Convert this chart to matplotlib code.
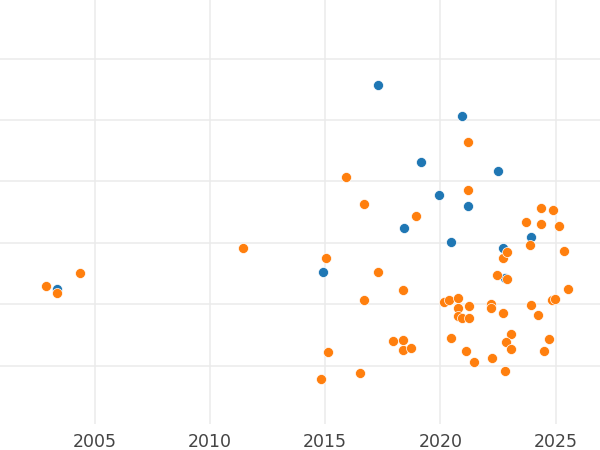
import numpy as np
import matplotlib.pyplot as plt

# blue series (year, value)
blue_year = [2017.29, 2020.93, 2019.16, 2022.50, 2019.94, 2021.20, 2018.42,
             2023.93, 2020.46, 2022.71, 2014.90, 2022.80, 2003.36]
blue_val = [4.57, 4.07, 3.32, 3.17, 2.78, 2.60, 2.24,
            2.10, 2.01, 1.92, 1.53, 1.43, 1.25]

# orange series (year, value)
orange_year = [2002.89, 2003.36, 2004.36, 2011.43, 2021.20, 2015.90, 2021.20,
               2016.68, 2018.94, 2024.36, 2024.88, 2023.71, 2024.36, 2025.14,
               2023.88, 2025.36, 2015.03, 2022.71, 2022.89, 2017.29, 2022.45,
               2022.89, 2018.38, 2016.68, 2025.53, 2024.84, 2024.97, 2020.15,
               2020.37, 2020.76, 2021.24, 2020.76, 2020.76, 2020.93, 2021.24,
               2022.19, 2022.19, 2022.71, 2023.93, 2024.23, 2023.06, 2020.46,
               2024.71, 2022.84, 2017.94, 2018.38, 2018.38, 2018.72, 2015.12,
               2021.11, 2023.06, 2024.49, 2021.46, 2022.24, 2022.80, 2016.51,
               2014.82]
orange_val = [1.30, 1.18, 1.51, 1.92, 3.64, 3.07, 2.86,
              2.63, 2.44, 2.57, 2.54, 2.34, 2.31, 2.28,
              1.97, 1.87, 1.75, 1.75, 1.85, 1.53, 1.48,
              1.41, 1.23, 1.07, 1.25, 1.07, 1.09, 1.04,
              1.07, 1.10, 0.97, 0.94, 0.81, 0.78, 0.78,
              1.00, 0.94, 0.86, 0.99, 0.83, 0.52, 0.45,
              0.43, 0.39, 0.40, 0.42, 0.26, 0.29, 0.22,
              0.24, 0.27, 0.24, 0.06, 0.13, -0.09, -0.12,
              -0.22]

x_ticks = [2005, 2010, 2015, 2020, 2025]

fig = plt.figure(figsize=(6, 4.5), dpi=100)
ax = fig.add_axes([0, 1 - 424 / 450, 1, 424 / 450])

ax.scatter(blue_year, blue_val, s=52, color='#1f77b4', edgecolor='white',
           linewidth=0.5, zorder=3)
ax.scatter(orange_year, orange_val, s=52, color='#ff7f0e', edgecolor='white',
           linewidth=0.5, zorder=4)

ax.set_xlim(2000.89, 2026.92)
ax.set_ylim(-0.95, 5.956)
ax.set_xticks(x_ticks)
ax.set_yticks(np.arange(0, 6))
ax.set_yticklabels([])
ax.grid(True, color='#ebebeb', linewidth=1.1, zorder=0)
ax.set_axisbelow(True)
for s in ax.spines.values():
    s.set_visible(False)
ax.tick_params(axis='both', length=0)
ax.tick_params(axis='x', labelsize=12.5, labelcolor='#444444', pad=6.5)

fig.savefig('out.png', dpi=100)
